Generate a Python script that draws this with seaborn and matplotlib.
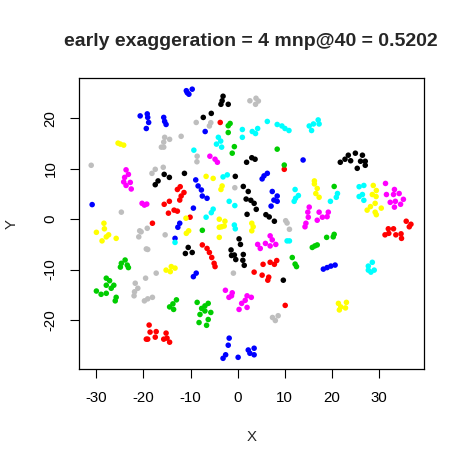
import matplotlib
matplotlib.use("Agg")
import matplotlib.pyplot as plt
import seaborn as sns
import pandas as pd

# ---- data ----
blue_x = [-10.9, -10.35, -9.65, -10.7, -20.7, -19.2, -19.1, -18.9, -19.4, -15.7, -15.5, -15.2,
          -6.9, -8.9, -8.4, -7.7, -7.5, -6.5, -30.9, -9.4, -12.3, -12.7, 13.9, 5.2, 5.6, 6.3,
          7.35, 8.4, 7.7, 8.4, 7.1, -13.3, -8.8, -9.4, 18.2, 19.0, 19.8, 20.7,
          -1.8, -2.0, -2.55, -3.1, 0.1, 2.25, 2.6, 3.5, 3.5]
blue_y = [25.5, 24.8, 25.8, 25.1, 20.5, 20.9, 20.2, 19.2, 18.0, 20.2, 19.4, 18.8,
          17.4, 7.8, 6.6, 5.8, 4.6, 4.15, 2.9, 2.2, -0.8, -1.6, 11.75, 8.0, 8.6, 9.1,
          5.5, 4.6, 3.8, 3.55, 2.6, -3.8, -10.7, -11.4, -9.9, -9.6, -9.3, -9.1,
          -23.6, -25.0, -26.9, -27.6, -27.4, -25.95, -26.6, -25.6, -26.9]

gray_x = [-8.8, -6.0, -5.7, 2.6, 3.9, 4.4, 3.8, -15.5, -14.45, -15.7, -16.2, -15.7, -12.0,
          -8.6, -8.65, -31.1, -18.2, -17.5, -15.8, -24.7, -20.8, -20.5, -19.2, -21.0, -0.6,
          10.2, 10.5, -15.4, -19.4, -19.1, -17.3, -19.55, -21.75, -21.2, -21.9, -22.0,
          -19.8, -19.1, -18.1, 11.0, -0.9, 7.4, 8.6, 8.0]
gray_y = [19.2, 18.5, 19.15, 23.5, 24.0, 23.45, 22.8, 16.25, 15.85, 15.3, 14.3, 14.3, 16.45,
          12.5, 11.4, 10.7, 9.1, 9.9, 10.3, 1.4, -2.3, -2.5, -1.8, -3.5, 6.25,
          -0.3, -0.75, -3.1, -5.9, -6.0, -10.7, -11.7, -12.7, -13.7, -14.4, -15.2,
          -16.2, -15.8, -15.5, -2.0, -10.7, -19.5, -19.15, -20.1]

black_x = [-3.1, -3.3, -3.55, -2.0, -7.3, -5.6, -15.6, -14.5, -16.9, -17.5, -11.3,
           3.0, 3.7, 1.9, -0.5, 1.2, 2.25, 1.8, 2.8, 3.5, 3.95, 2.0, 6.0, 6.7, 7.8,
           21.8, 22.8, 23.5, 24.0, 25.0, 26.5, 26.1, 27.1, 27.1, 25.4,
           -10.5, -11.1, -9.65, 0.3, 0.6, -1.4, -0.7, -1.3, 1.2, -0.4, 1.1, 1.4, 9.7]
black_y = [24.4, 23.5, 22.8, 22.8, 20.2, 21.0, 8.9, 8.3, 7.6, 6.85, 9.1,
           12.2, 11.9, 11.3, 8.5, 6.5, 5.5, 4.0, 3.75, 3.15, 1.96, 0.97, 0.9, 0.45, -0.4,
           11.3, 11.9, 12.7, 11.6, 13.1, 12.7, 11.5, 11.5, 10.7, 10.1,
           -5.6, -6.8, -6.6, -3.9, -5.0, -6.1, -7.1, -7.2, -7.0, -8.0, -8.15, -9.15, -12.1]

red_x = [-3.7, -12.8, -12.2, -11.4, -12.0, -12.3, -14.5, -15.6, -13.5, -12.8, -14.7, -10.1, -18.1,
         9.9, 32.0, 33.1, 31.3, 32.1, 33.6, 34.7, 34.8, 35.8, 36.8, 36.45,
         -7.5, -6.5, -6.0, -5.5, -5.0, -4.8, 5.4, 6.9, 7.8, 8.3, 3.5, 5.2, 6.4, 6.6, 10.1,
         -18.8, -18.6, -17.3, -17.5, -19.1, -19.4, -15.2, -15.0, -15.7, -14.45]
red_y = [19.2, 5.9, 6.45, 5.3, 4.6, 3.8, 3.55, 2.96, 1.8, 1.6, 1.2, 0.4, -0.8,
         9.9, -1.9, -1.9, -3.1, -2.8, -3.1, -2.9, -3.8, -0.4, -1.0, -1.5,
         -5.1, -5.8, -6.6, -7.6, -8.75, -9.4, -8.95, -8.55, -8.95, -8.2, -10.5, -11.1, -12.1, -11.5, -17.1,
         -21.0, -22.4, -22.3, -23.4, -23.8, -23.8, -22.6, -23.6, -23.8, -24.4]

green_x = [-2.0, -1.6, -2.0, -0.7, -1.15, 8.4, 9.9, 20.5, -7.5, 18.9, 20.3, 20.5, 15.85, 16.4, 16.9,
           -23.9, -24.7, -24.9, -23.45, -23.2, -27.9, -27.2, -27.9, -26.3, -26.85, -30.0, -29.0,
           -27.9, -25.8, -26.0, -13.0, -13.75, -14.45, -13.6, 11.6, 12.2, 12.5,
           -8.6, -7.65, -6.95, -6.25, -8.0, -6.95, -5.7, -6.25, -8.2, -6.6]
green_y = [18.55, 19.0, 17.2, 14.4, 13.1, 13.9, 10.75, 6.5, -2.2, -3.6, -3.5, -3.0, -5.6, -5.3, -5.1,
           -8.1, -8.75, -9.5, -9.1, -9.6, -11.7, -12.2, -13.1, -13.1, -13.7, -14.25, -14.9,
           -14.7, -15.5, -16.2, -16.0, -16.8, -17.4, -17.9, -7.6, -8.9, -9.4,
           -16.5, -17.7, -17.2, -16.7, -18.9, -18.2, -18.5, -19.9, -20.5, -21.05]

cyan_x = [-9.3, 6.3, 8.4, 9.4, 10.05, 10.9, 15.2, 16.1, 17.1, 17.3, 15.7, 1.0, 1.0, 3.1, 3.8, 4.25,
          -4.1, -3.6, -4.5, -3.4, -3.1, -2.2, 12.2, 12.9, 12.3, 12.0, -1.8, -0.6, -5.2, -5.6, -6.7,
          -0.7, -0.5, 21.2, 20.95, 19.7, 25.8, 26.8, 25.8, 26.5, 26.8, -13.3, 10.5, 11.0,
          28.6, 27.75, 27.75, 28.3, 29.0]
cyan_y = [13.7, 19.4, 18.8, 18.5, 18.0, 17.6, 18.5, 18.9, 19.7, 18.9, 17.6, 17.8, 16.25, 17.4, 17.0, 18.0,
          16.25, 15.5, 14.9, 14.3, 8.4, 8.8, 5.9, 4.7, 4.15, 3.55, 3.55, 2.7, 2.0, 1.3, 0.4,
          -1.15, -1.9, 5.1, 4.35, 3.55, 6.45, 6.7, 4.5, 4.9, 3.75, -4.6, -4.3, -4.3,
          -8.55, -9.3, -10.1, -10.5, -10.1]

magenta_x = [-23.7, -23.2, -24.0, -24.2, -23.7, -22.8, -22.6, -20.3, -19.8, -19.3, -5.9, -4.8, -4.3,
             31.4, 33.3, 34.3, 33.1, 31.6, 35.2, 33.5, 32.4, 34.6, 33.3,
             15.2, 14.9, 15.0, 14.5, 14.3, 17.3, 19.25, 19.0, 18.0, 16.9,
             6.9, 7.35, 8.1, 6.9, 5.9, 4.25, 4.8,
             -2.6, -1.15, -1.3, -1.85, 2.0, 2.9, 1.6, 0.85, 0.3, 2.0]
magenta_y = [9.8, 8.9, 8.3, 7.4, 6.7, 7.3, 6.0, 3.15, 2.8, 3.0, 12.5, 11.9, 11.3,
             7.1, 5.9, 5.1, 4.9, 4.9, 3.95, 3.55, 3.35, 2.96, 2.4,
             2.4, 1.4, 0.4, -0.8, -1.5, 1.4, 1.4, 0.5, 0.4, -0.2,
             -3.3, -4.1, -5.0, -5.3, -4.8, -5.0, -5.8,
             -14.1, -14.6, -15.2, -15.5, -15.2, -15.5, -16.1, -16.7, -17.9, -17.5]

yellow_x = [-25.4, -24.9, -24.2, -10.98, -30.0, -28.4, -28.3, -27.9, -27.4, -28.8, -25.8,
            -6.7, -5.2, -3.3, -3.55, -3.9, -2.7, -3.4, -3.9, -2.85, 3.0, 3.3, -3.9, 3.0,
            16.3, 16.3, 16.9, 16.6, 17.3, 28.8, 29.45, 28.6, 29.4, 29.2, 28.2, 27.5, 30.5, 29.2, 29.45,
            -10.9, -10.4, -15.2, -14.1, -13.3, -14.3, 21.4, 23.1, 21.9, 22.9, 21.6]
yellow_y = [15.1, 14.9, 14.7, 0.2, -2.6, -0.8, -1.9, -3.5, -3.1, -4.3, -3.8,
            8.5, 8.1, 6.6, 5.9, 0.0, -0.4, -1.5, -1.6, -1.35, -0.8, -1.5, -3.6, -2.3,
            7.6, 7.0, 6.1, 5.1, 4.35, 6.7, 5.7, 4.9, 4.5, 3.15, 2.5, 1.8, 2.2, 1.4, 0.9,
            -2.8, -2.3, -10.1, -9.4, -9.7, -10.4, -16.7, -16.5, -17.4, -17.6, -18.0]

title = "early exaggeration = 4 mnp@40 = 0.5202"
x_ticks = [-30, -20, -10, 0, 10, 20, 30]
y_ticks = [-20, -10, 0, 10, 20]

groups = {
    "black": (black_x, black_y), "red": (red_x, red_y), "green": (green_x, green_y),
    "blue": (blue_x, blue_y), "cyan": (cyan_x, cyan_y), "magenta": (magenta_x, magenta_y),
    "yellow": (yellow_x, yellow_y), "gray": (gray_x, gray_y),
}
palette = {"black": "#000000", "red": "#FF0000", "green": "#00CD00", "blue": "#0000FF",
           "cyan": "#00FFFF", "magenta": "#FF00FF", "yellow": "#FFFF00", "gray": "#BEBEBE"}

frames = [pd.DataFrame({"X": xs, "Y": ys, "grp": g}) for g, (xs, ys) in groups.items()]
df = pd.concat(frames, ignore_index=True)

sns.set_style("white")
plt.rcParams["font.family"] = ["Liberation Sans", "DejaVu Sans"]

fig = plt.figure(figsize=(4.65, 4.67), dpi=100)
ax = fig.add_axes([78.5 / 465, 1 - 369 / 467, (424.3 - 78.5) / 465, (369 - 78.3) / 467])
sns.scatterplot(data=df, x="X", y="Y", hue="grp", palette=palette, s=16, linewidth=0,
                legend=False, ax=ax)

ax.set_xlim(-33.8, 39.64)
ax.set_ylim(-29.72, 27.96)
ax.set_xticks(x_ticks)
ax.set_yticks(y_ticks)
ax.set_xticklabels([str(v) for v in x_ticks])
ax.set_yticklabels([str(v) for v in y_ticks], rotation=90, va="center")
ax.tick_params(axis="both", direction="out", length=6.7, width=0.8, colors="black",
               labelsize=10.8, left=True, bottom=True)
ax.tick_params(axis="x", pad=9.5)
ax.tick_params(axis="y", pad=8.5)
for sp in ax.spines.values():
    sp.set_visible(True)
    sp.set_color("black")
    sp.set_linewidth(0.9)
ax.set_xlabel("")
ax.set_ylabel("")

cx = (78.5 + 424.3) / 2 / 465
fig.text(250.8 / 465, 1 - 41 / 467, title, ha="center", va="center", fontsize=14.0, fontweight="bold")
fig.text(cx, 1 - 437 / 467, "X", ha="center", va="center", fontsize=10.8)
fig.text(12 / 465, 1 - 223.6 / 467, "Y", ha="center", va="center", fontsize=10.8, rotation=90)

fig.savefig("out.png", dpi=100, facecolor="white")
